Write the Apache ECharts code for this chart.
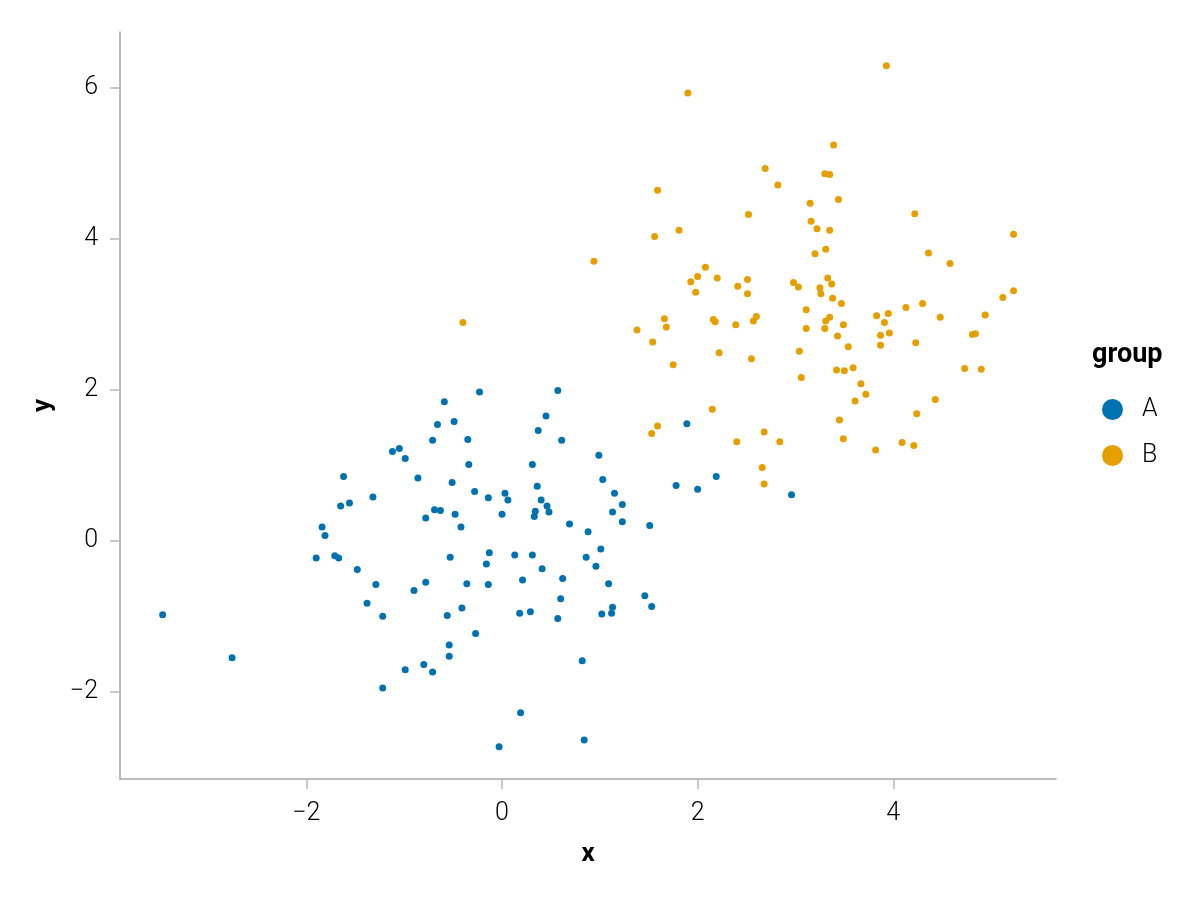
<!DOCTYPE html>
<html>
<head>
<meta charset="utf-8">
<script src="https://cdn.jsdelivr.net/npm/echarts@6/dist/echarts.min.js"></script>
<style>
html,body{margin:0;padding:0;background:#fff;}
#chart{width:1200px;height:900px;}
</style>
</head>
<body>
<div id="chart"></div>
<script>
// ---- data ----
const groupNames = ['A', 'B'];
const groupA = [
[-0.66,1.54],[-0.71,1.33],[-1.12,1.18],[-1.05,1.22],[-0.99,1.09],[-1.62,0.85],[-0.86,0.83],[-1.32,0.58],[-1.65,0.46],[-1.56,0.50],[-0.69,0.41],[-0.63,0.40],[-0.78,0.30],[-1.84,0.18],
[-0.59,1.84],[-0.23,1.97],[0.57,1.99],[-0.49,1.58],[0.45,1.65],[0.37,1.46],[0.61,1.33],[-0.35,1.34],[1.89,1.55],[-0.34,1.01],[0.31,1.01],[0.99,1.13],[1.03,0.81],[-0.51,0.77],[-0.28,0.65],[-0.14,0.57],[0.03,0.63],[0.06,0.54],[0.36,0.72],[0.40,0.54],[0.46,0.46],[0.48,0.38],[0.34,0.39],[0.33,0.32],[1.15,0.63],[1.23,0.48],[1.13,0.38],[1.23,0.25],[1.78,0.73],[2.00,0.68],[2.19,0.85],[-0.48,0.35],[-0.42,0.18],[0.00,0.35],[0.69,0.22],[0.88,0.12],[1.51,0.20],
[2.96,0.61],
[-1.81,0.07],[-1.90,-0.23],[-1.71,-0.20],[-1.67,-0.23],[-1.48,-0.38],[-1.29,-0.58],[-1.38,-0.83],[-1.22,-1.00],[-0.90,-0.66],[-0.78,-0.55],[-3.47,-0.98],[-2.76,-1.55],[-0.99,-1.71],[-0.80,-1.64],[-0.71,-1.74],[-1.22,-1.95],
[-0.53,-0.22],[-0.13,-0.16],[-0.16,-0.31],[0.13,-0.19],[0.31,-0.19],[0.41,-0.37],[0.86,-0.22],[1.01,-0.11],[0.96,-0.34],[-0.36,-0.57],[-0.14,-0.58],[0.21,-0.52],[0.62,-0.50],[1.09,-0.57],[1.46,-0.73],[1.53,-0.87],[0.60,-0.77],[-0.41,-0.89],[-0.56,-0.99],[0.18,-0.96],[0.29,-0.94],[0.57,-1.03],[1.02,-0.97],[1.12,-0.96],[1.13,-0.88],[-0.27,-1.23],[-0.54,-1.38],[-0.54,-1.53],[0.82,-1.59],[0.19,-2.28],[-0.03,-2.73],[0.84,-2.64]
];
const groupB = [
[1.93,3.43],[2.20,3.48],[2.41,3.37],[2.51,3.46],[1.98,3.29],[2.51,3.27],[-0.40,2.89],[1.66,2.94],[1.68,2.83],[1.38,2.79],[2.16,2.93],[2.18,2.90],[2.39,2.86],[2.57,2.91],[2.60,2.97],[1.54,2.63],[2.22,2.49],[2.55,2.41],[1.75,2.33],[2.15,1.74],[1.59,1.52],[1.53,1.42],[2.40,1.31],[2.66,0.97],
[2.98,3.42],[3.03,3.36],[3.25,3.35],[3.26,3.27],[3.33,3.48],[3.37,3.40],[3.38,3.21],[3.47,3.14],[3.11,3.06],[3.11,2.81],[3.31,2.91],[3.35,2.96],[3.30,2.81],[3.49,2.86],[3.43,2.71],[3.54,2.57],[3.04,2.51],[3.06,2.16],[3.42,2.26],[3.50,2.25],[3.59,2.29],[3.67,2.08],[3.72,1.94],[3.61,1.85],[3.45,1.60],[3.49,1.35],[3.83,2.98],[3.95,3.01],[3.91,2.89],[3.87,2.72],[3.96,2.75],[3.87,2.59],[4.13,3.09],[4.30,3.14],[4.48,2.96],[4.23,2.62],[4.94,2.99],[5.12,3.22],[5.23,3.31],[4.81,2.73],[4.84,2.74],[4.73,2.28],[4.90,2.27],[4.43,1.87],[4.24,1.68],[4.09,1.30],[4.21,1.26],[3.82,1.20],[2.68,1.44],[2.84,1.31],[2.68,0.75],
[1.90,5.93],[1.59,4.64],[2.52,4.32],[1.81,4.11],[1.56,4.03],[0.94,3.70],[2.08,3.62],[2.00,3.50],
[3.93,6.29],[3.39,5.24],[2.69,4.93],[2.82,4.71],[3.30,4.86],[3.35,4.85],[3.44,4.52],[3.15,4.47],[3.16,4.23],[3.22,4.13],[3.35,4.11],[3.31,3.86],[3.20,3.80],[4.22,4.33],[5.23,4.06],[4.36,3.81],[4.58,3.67]
];
const xTicks = [-2, 0, 2, 4];
const yTicks = [-2, 0, 2, 4, 6];
const colors = ['#0072B2', '#E69F00'];

// ---- chart ----
const FONT = 'Roboto';
const fmt = v => String(v).replace('-', '\u2212');
const axisCommon = {
  type: 'value',
  splitLine: { show: false },
  axisLine: { show: true, onZero: false, lineStyle: { color: '#a6a6a6', width: 1.5 } },
  axisTick: { show: true, length: 10, lineStyle: { color: '#b8b8b8', width: 1.5 } },
  nameLocation: 'middle',
  nameTextStyle: { fontFamily: FONT, fontWeight: 'bold', fontSize: 26, color: '#000' }
};
const chart = echarts.init(document.getElementById('chart'), null, { renderer: 'canvas' });
chart.setOption({
  animation: false,
  backgroundColor: '#ffffff',
  grid: { left: 120, right: 144, top: 32, bottom: 121, containLabel: false },
  xAxis: Object.assign({}, axisCommon, {
    min: -3.906, max: 5.664,
    name: 'x', nameGap: 62,
    axisTick: Object.assign({}, axisCommon.axisTick, { customValues: xTicks }),
    axisLabel: { customValues: xTicks, formatter: fmt, margin: 22, fontFamily: FONT, fontWeight: 300, fontSize: 25, color: '#000' }
  }),
  yAxis: Object.assign({}, axisCommon, {
    min: -3.156, max: 6.737,
    name: 'y', nameGap: 64, nameRotate: 90,
    axisTick: Object.assign({}, axisCommon.axisTick, { customValues: yTicks }),
    axisLabel: { customValues: yTicks, formatter: fmt, margin: 22, fontFamily: FONT, fontWeight: 300, fontSize: 25, color: '#000' }
  }),
  legend: {
    orient: 'vertical',
    left: 1102, top: 397,
    padding: 0,
    icon: 'circle',
    itemWidth: 21, itemHeight: 21,
    itemGap: 21,
    textStyle: { fontFamily: FONT, fontWeight: 300, fontSize: 25, color: '#000', padding: [0, 0, 0, 14] },
    data: groupNames
  },
  graphic: [{
    type: 'text', left: 1092, top: 342,
    style: { text: 'group', fontFamily: FONT, fontWeight: 'bold', fontSize: 27, fill: '#000' }
  }],
  series: [
    { name: groupNames[0], type: 'scatter', data: groupA, symbolSize: 7, itemStyle: { color: colors[0], opacity: 1 } },
    { name: groupNames[1], type: 'scatter', data: groupB, symbolSize: 7, itemStyle: { color: colors[1], opacity: 1 } }
  ]
});
</script>
</body>
</html>
